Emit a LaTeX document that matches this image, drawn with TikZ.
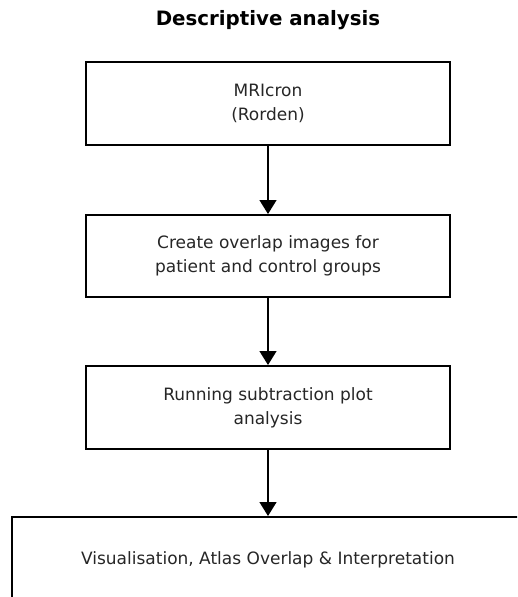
\documentclass[tikz,border=0pt]{standalone}
\usepackage{fontspec}
\setmainfont{DejaVu Sans}
\usetikzlibrary{arrows.meta}
\tikzset{
	stepbox/.style = {draw, line width = 2pt, inner sep = 0pt, align = center, text = black!85, font = \fontsize{17}{24}\selectfont},
	flow/.style = {line width = 1.4pt, arrows = {-Triangle[width = 17pt, length = 14pt]}}
}

\begin{document}
\begin{tikzpicture}[x = 1pt, y = -1pt]
		\path[use as bounding box, clip] (0, 0) rectangle (517, 597);
		\node[font = \bfseries\fontsize{19.8}{24}\selectfont] (title) at (268, 20) {Descriptive analysis};
		\node[stepbox, minimum width = 364pt, minimum height = 83pt] (mricron) at (268, 103.5) {MRIcron\\(Rorden)};
		\node[stepbox, minimum width = 364pt, minimum height = 82pt] (overlap) at (268, 256) {Create overlap images for\\patient and control groups};
		\node[stepbox, minimum width = 364pt, minimum height = 83pt] (subtraction) at (268, 407.5) {Running subtraction plot\\analysis};
		\node[stepbox, minimum width = 512pt, minimum height = 86pt] (visual) at (268, 560) {Visualisation, Atlas Overlap \& Interpretation};
		\draw[flow] (mricron) -- (overlap);
		\draw[flow] (overlap) -- (subtraction);
		\draw[flow] (subtraction) -- (visual);
	\end{tikzpicture}
\end{document}
